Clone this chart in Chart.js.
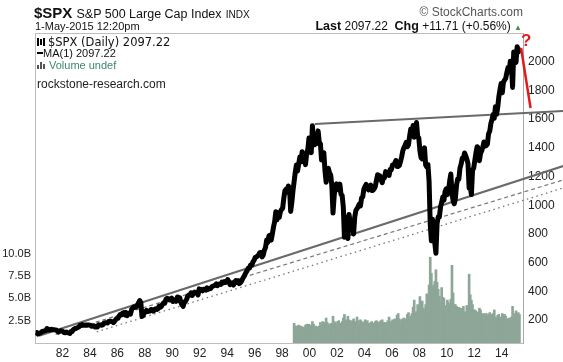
<!DOCTYPE html>
<html>
<head>
<meta charset="utf-8">
<script src="https://cdn.jsdelivr.net/npm/chart.js@4.4.0/dist/chart.umd.min.js"></script>
<style>
  body { margin: 0; background: #fff; }
  #wrap { position: relative; width: 563px; height: 362px; font-family: Arial, "Liberation Sans", sans-serif; color: #111; overflow: hidden; }
  #spx { position: absolute; left: 0; top: 0; }
  .t { position: absolute; white-space: nowrap; line-height: 1; }
</style>
</head>
<body>
<div id="wrap">
  <canvas id="spx" width="563" height="362"></canvas>
  <div class="t" style="left:34px;top:5px;font-size:15px;font-weight:bold">$SPX <span style="font-size:12.5px;font-weight:normal">S&amp;P 500 Large Cap Index</span> <span style="font-size:10px;font-weight:normal">INDX</span></div>
  <div class="t" style="right:40px;top:6px;font-size:12px;color:#555">© StockCharts.com</div>
  <div class="t" style="left:35px;top:21px;font-size:11px">1-May-2015 12:20pm</div>
  <div class="t" style="right:41px;top:20px;font-size:12px"><b style="font-size:12.5px">Last</b> 2097.22&nbsp; <b style="font-size:12.5px">Chg</b> +11.71 (+0.56%) <span style="font-size:8px;color:#4a8a4a">▲</span></div>
  <div style="position:absolute;left:35px;top:33px;width:488px;border-top:1px solid #bdbdbd"></div>

  <div style="position:absolute;left:37px;top:38px;width:2px;height:8px;background:#000"></div>
  <div style="position:absolute;left:40px;top:39px;width:2px;height:6px;background:#000"></div>
  <div style="position:absolute;left:43px;top:38px;width:2px;height:8px;background:#000"></div>
  <div class="t" style="left:48px;top:37px;font-size:11.5px;font-family:'DejaVu Sans',Verdana,sans-serif">$SPX (Daily) 2097.22</div>
  <div style="position:absolute;left:37px;top:52px;width:6px;height:2px;background:#000"></div>
  <div class="t" style="left:43px;top:48px;font-size:11px">MA(1) 2097.22</div>
  <div style="position:absolute;left:37px;top:65px;width:2px;height:4px;background:#555"></div>
  <div style="position:absolute;left:40px;top:62px;width:2px;height:7px;background:#555"></div>
  <div style="position:absolute;left:43px;top:64px;width:2px;height:5px;background:#555"></div>
  <div class="t" style="left:49px;top:60px;font-size:11px;color:#3b8a68">Volume undef</div>
  <div class="t" style="left:37px;top:78px;font-size:12px;color:#222">rockstone-research.com</div>
  <div class="t" style="left:521px;top:32px;font-size:17px;font-weight:bold;color:#e01b1b">?</div>
</div>
<script>
// S&P 500, monthly readings from Jan 1980 to May 2015
const spxStart = 1980;
const spxMonthly = [
  114, 113, 102, 106, 111, 114, 122, 122, 125, 127, 141, 136,
  130, 131, 136, 133, 133, 131, 131, 123, 116, 122, 126, 123,
  120, 113, 112, 116, 112, 110, 107, 120, 120, 134, 139, 141,
  145, 148, 153, 164, 162, 168, 163, 164, 166, 164, 166, 165,
  163, 157, 159, 160, 151, 153, 151, 167, 166, 166, 164, 167,
  180, 181, 181, 180, 190, 192, 191, 188, 182, 190, 202, 211,
  212, 227, 238, 235, 247, 251, 236, 253, 231, 244, 249, 242,
  274, 284, 292, 288, 290, 304, 319, 336, 322, 225, 230, 247,
  257, 267, 259, 261, 262, 274, 272, 262, 272, 279, 274, 278,
  297, 289, 295, 310, 321, 318, 346, 351, 349, 340, 346, 353,
  329, 332, 340, 331, 361, 358, 356, 323, 306, 295, 322, 330,
  344, 367, 375, 375, 390, 371, 388, 395, 388, 392, 375, 417,
  409, 413, 404, 414, 415, 408, 424, 414, 418, 419, 431, 436,
  439, 443, 452, 440, 450, 451, 448, 464, 459, 468, 462, 466,
  482, 467, 446, 451, 457, 444, 458, 475, 463, 472, 454, 459,
  470, 487, 501, 515, 533, 545, 562, 562, 584, 582, 605, 616,
  636, 640, 646, 654, 669, 671, 640, 652, 687, 705, 757, 741,
  786, 791, 757, 801, 848, 885, 954, 899, 947, 915, 955, 970,
  980, 1049, 1101, 1112, 1091, 1134, 1121, 957, 1017, 1099, 1164, 1229,
  1280, 1238, 1286, 1335, 1302, 1373, 1329, 1320, 1283, 1363, 1389, 1469,
  1394, 1366, 1553, 1452, 1421, 1455, 1431, 1518, 1437, 1429, 1315, 1320,
  1366, 1240, 1160, 1249, 1256, 1224, 1211, 1134, 945, 1060, 1139, 1148,
  1130, 1107, 1147, 1077, 1067, 990, 776, 916, 815, 768, 936, 880,
  856, 841, 800, 917, 964, 975, 990, 1008, 996, 1051, 1058, 1112,
  1131, 1145, 1126, 1107, 1121, 1141, 1102, 1104, 1115, 1130, 1174, 1212,
  1181, 1204, 1181, 1157, 1191, 1191, 1234, 1220, 1229, 1207, 1249, 1248,
  1280, 1281, 1295, 1311, 1270, 1270, 1277, 1304, 1336, 1378, 1401, 1418,
  1438, 1407, 1421, 1482, 1531, 1503, 1555, 1474, 1527, 1576, 1481, 1468,
  1379, 1331, 1323, 1386, 1400, 1280, 1267, 1283, 1166, 869, 752, 903,
  826, 735, 666, 873, 919, 919, 987, 1021, 1057, 1036, 1096, 1115,
  1074, 1104, 1169, 1217, 1089, 1031, 1010, 1049, 1141, 1183, 1181, 1258,
  1286, 1327, 1326, 1364, 1345, 1321, 1292, 1119, 1131, 1074, 1247, 1258,
  1312, 1366, 1408, 1398, 1310, 1362, 1379, 1407, 1441, 1412, 1416, 1426,
  1498, 1515, 1569, 1598, 1631, 1606, 1686, 1633, 1682, 1757, 1806, 1848,
  1783, 1859, 1872, 1884, 1924, 1960, 1931, 2003, 1972, 1821, 2068, 2059,
  1995, 2105, 2068, 2086, 2097
];

// volume in billions, monthly from Nov 1998
const volStart = 1998 + 10 / 12;
const volumeB = [
  2.2, 1.9,
  1.9, 1.8, 2.0, 1.7, 1.9, 1.6, 1.8, 1.7, 2.0, 2.1, 1.9, 2.1,
  2.0, 1.9, 2.4, 2.1, 1.8, 1.9, 1.8, 1.7, 1.9, 2.3, 2.0, 2.4,
  2.2, 2.3, 2.8, 2.3, 2.1, 1.9, 2.2, 2.0, 3.0, 2.4, 2.3, 2.0,
  2.4, 2.5, 2.1, 2.2, 2.4, 2.8, 3.2, 2.5, 2.6, 3.0, 2.6, 2.3,
  2.5, 2.4, 2.7, 2.4, 2.3, 2.9, 2.5, 2.1, 2.6, 2.4, 2.3, 2.2,
  2.6, 2.3, 2.5, 2.2, 2.1, 2.3, 2.4, 2.0, 2.2, 2.4, 2.5, 2.3,
  2.3, 2.4, 2.5, 2.6, 2.3, 2.3, 2.2, 2.3, 2.5, 2.9, 2.4, 2.3,
  2.6, 2.5, 2.7, 2.5, 3.1, 3.3, 2.7, 2.4, 2.6, 2.7, 2.8, 2.5,
  2.7, 3.2, 3.4, 2.8, 3.0, 3.3, 4.0, 4.8, 3.2, 3.5, 4.3, 3.4,
  5.2, 4.3, 4.7, 3.9, 3.7, 4.3, 5.5, 3.9, 6.5, 9.6, 7.8, 6.3,
  6.5, 6.9, 8.2, 6.8, 6.0, 5.2, 4.6, 6.2, 5.1, 5.0, 4.2, 4.1,
  4.8, 4.5, 4.2, 4.9, 8.7, 5.6, 4.3, 4.3, 4.1, 3.9, 4.0, 3.4,
  3.9, 3.8, 4.1, 3.4, 3.5, 4.2, 3.8, 7.7, 5.4, 4.8, 4.3, 3.7,
  3.7, 3.6, 3.4, 3.4, 3.9, 3.7, 3.3, 2.9, 3.3, 3.1, 3.3, 3.0,
  3.2, 3.4, 3.0, 3.2, 3.3, 3.7, 2.9, 2.8, 3.1, 3.2, 2.9, 2.8,
  3.3, 3.1, 3.2, 3.0, 2.7, 2.6, 2.8, 2.5, 2.9, 4.1, 2.8, 3.3,
  3.6, 3.0, 3.4, 3.2
];

const yearTicks = [1982, 1984, 1986, 1988, 1990, 1992, 1994, 1996, 1998, 2000, 2002, 2004, 2006, 2008, 2010, 2012, 2014];
const priceTicks = [200, 400, 600, 800, 1000, 1200, 1400, 1600, 1800, 2000];
const volTicks = [2.5, 5, 7.5, 10];

// hand drawn lines, [year, price]
const resistance = [[2000.39, 1566], [2018.48, 1656]];
const supportSolid = [[1980.3, 90], [2018.48, 1273]];
const supportDashed = [[1981.5, 100], [2018.48, 1176]];
const supportDotted = [[1984.5, 118], [2018.48, 1120]];
const dropLine = [[2015.41, 2095], [2016.1, 1677]];

const pts = arr => arr.map(p => ({ x: p[0], y: p[1] }));
const spxPoints = spxMonthly.map((v, i) => ({ x: spxStart + (i + 0.5) / 12, y: v }));
const volPoints = volumeB.map((v, i) => ({ x: volStart + (i + 0.5) / 12, y: v }));

const tickFont = { family: 'Arial, "Liberation Sans", sans-serif', size: 12 };

new Chart(document.getElementById('spx'), {
  type: 'line',
  data: {
    datasets: [
      { label: 'Volume', type: 'bar', data: volPoints, yAxisID: 'vol', backgroundColor: '#8da698',
        barThickness: 2, borderWidth: 0, order: 9 },
      { label: 'resistance', data: pts(resistance), yAxisID: 'price', borderColor: '#6a6a6a', borderWidth: 2, clip: false, order: 3 },
      { label: 'support', data: pts(supportSolid), yAxisID: 'price', borderColor: '#6a6a6a', borderWidth: 2, clip: false, order: 3 },
      { label: 'support2', data: pts(supportDashed), yAxisID: 'price', borderColor: '#777', borderWidth: 1.2, borderDash: [4, 3], clip: false, order: 3 },
      { label: 'support3', data: pts(supportDotted), yAxisID: 'price', borderColor: '#777', borderWidth: 1.3, borderDash: [1.5, 3.5], clip: false, order: 3 },
      { label: '$SPX', data: spxPoints, yAxisID: 'price', borderColor: '#000', borderWidth: 5, borderJoinStyle: 'round', order: 1 },
      { label: 'drop', data: pts(dropLine), yAxisID: 'price', borderColor: '#e01b1b', borderWidth: 2.5, clip: false, order: 0 }
    ]
  },
  options: {
    responsive: false,
    animation: false,
    layout: { padding: { top: 33 } },
    elements: { point: { radius: 0 }, line: { tension: 0 } },
    plugins: { legend: { display: false }, tooltip: { enabled: false } },
    scales: {
      x: {
        type: 'linear', min: 1980, max: 2015.55, offset: false,
        grid: { display: false, drawTicks: false },
        border: { color: '#bdbdbd' },
        ticks: { font: tickFont, color: '#222', padding: 3, maxRotation: 0,
          callback: v => String(v % 100).padStart(2, '0') },
        afterBuildTicks: s => { s.ticks = yearTicks.map(v => ({ value: v })); },
        afterFit: s => { s.height = 19; }
      },
      price: {
        position: 'right', min: 40, max: 2200,
        grid: { display: false, drawTicks: false },
        border: { color: '#aaa', dash: [1, 2] },
        ticks: { font: tickFont, color: '#222', padding: 5, callback: v => String(v) },
        afterBuildTicks: s => { s.ticks = priceTicks.map(v => ({ value: v })); },
        afterFit: s => { s.width = 40; }
      },
      vol: {
        position: 'left', min: 0, max: 34.7,
        grid: { display: false, drawTicks: false },
        border: { color: '#bdbdbd' },
        ticks: { font: { family: tickFont.family, size: 11 }, color: '#222', padding: 4,
          callback: v => v.toFixed(1) + 'B' },
        afterBuildTicks: s => { s.ticks = volTicks.map(v => ({ value: v })); },
        afterFit: s => { s.width = 35; }
      }
    }
  }
});
</script>
</body>
</html>
